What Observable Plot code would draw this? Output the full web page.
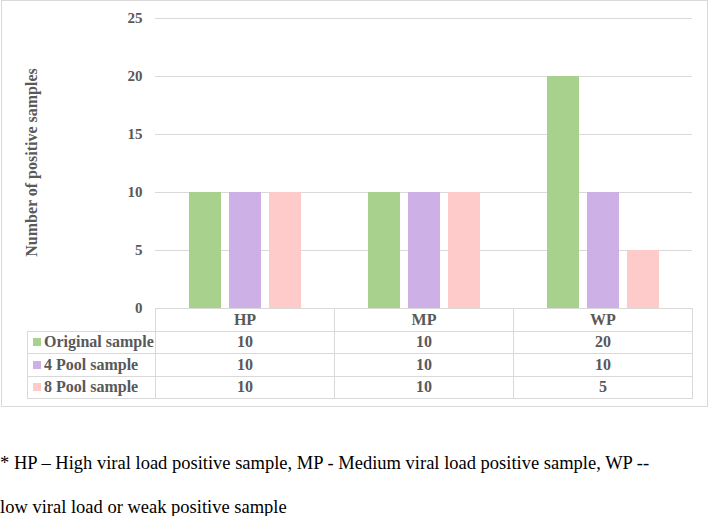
<!DOCTYPE html>
<html>
<head>
<meta charset="utf-8">
<script src="https://cdn.jsdelivr.net/npm/d3@7"></script>
<script src="https://cdn.jsdelivr.net/npm/@observablehq/plot@0.6"></script>
<style>
  body { margin: 0; background: #fff; font-family: "Liberation Serif", "Times New Roman", serif; }
  #wrap { position: relative; width: 709px; height: 516px; overflow: hidden; }
  #frame { position: absolute; left: 1px; top: 0; width: 705px; height: 405px; border: 1px solid #d9d9d9; pointer-events: none; }
  #chart { position: absolute; left: 0; top: 0; }
  #table { position: absolute; left: 27px; top: 308px; border-collapse: collapse; table-layout: fixed;
           font: bold 16px "Liberation Serif", "Times New Roman", serif; color: #595959; }
  #table td { border: 1px solid #d9d9d9; height: 21.5px; padding: 0; text-align: center; line-height: 20px; }
  #table td.lab { text-align: left; padding-left: 5px; white-space: nowrap; }
  #table td.empty { border-top: none; border-left: none; }
  .sw { display: inline-block; width: 8px; height: 8px; margin-right: 3px; vertical-align: 1px; }
  .cap { position: absolute; left: 0; font: 18.5px "Liberation Serif", "Times New Roman", serif; color: #000; white-space: nowrap; line-height: 20px; }
</style>
</head>
<body>
<div id="wrap">
  <div id="chart"></div>
  <table id="table"></table>
  <div id="frame"></div>
  <div class="cap" id="cap1" style="top:453px"></div>
  <div class="cap" id="cap2" style="top:497px"></div>
</div>
<script>
const categories = ["HP", "MP", "WP"];
const seriesNames = ["Original sample", "4 Pool sample", "8 Pool sample"];
const originalSample = [10, 10, 20];
const pool4Sample = [10, 10, 10];
const pool8Sample = [10, 10, 5];
const seriesColors = ["#a9d18e", "#ccb0e6", "#ffcaca"];
const yTicks = [0, 5, 10, 15, 20, 25];
const yLabel = "Number of positive samples";
const captionLines = [
  "* HP \u2013 High viral load positive sample, MP - Medium viral load positive sample, WP --",
  "low viral load or weak positive sample"
];

const seriesValues = [originalSample, pool4Sample, pool8Sample];
const rows = [];
categories.forEach((c, i) => {
  seriesNames.forEach((s, j) => rows.push({cat: c, series: s, value: seriesValues[j][i]}));
});

const chart = Plot.plot({
  width: 709,
  height: 308,
  marginTop: 18,
  marginBottom: 0,
  marginLeft: 155,
  marginRight: 17,
  style: {fontFamily: "'Liberation Serif', 'Times New Roman', serif", background: "transparent", overflow: "visible"},
  fx: {domain: categories, padding: 0, axis: null, label: null},
  x: {domain: seriesNames, paddingInner: 0.2, paddingOuter: 0.8375, axis: null, label: null},
  y: {domain: [0, 25], ticks: yTicks, label: null},
  color: {domain: seriesNames, range: seriesColors},
  marks: [
    Plot.gridY(yTicks, {stroke: "#d9d9d9", strokeOpacity: 1, strokeWidth: 1.2}),
    Plot.barY(rows, {fx: "cat", x: "series", y: "value", fill: "series"}),
    Plot.axisY(yTicks, {
      tickSize: 0, tickPadding: 13, fontSize: 15, fontWeight: "bold", fill: "#595959", label: null
    }),
    Plot.text([yLabel], {
      fx: () => categories[0], frameAnchor: "left", dx: -124, dy: -1, rotate: -90,
      textAnchor: "middle", lineAnchor: "middle",
      text: d => d, fontSize: 16, fontWeight: "bold", fill: "#595959"
    })
  ]
});
document.getElementById("chart").appendChild(chart);

// data table (legend + values) below the plot
const table = document.getElementById("table");
const colWidths = [128, 179, 179, 179];
const cg = document.createElement("colgroup");
colWidths.forEach(w => { const col = document.createElement("col"); col.style.width = w + "px"; cg.appendChild(col); });
table.appendChild(cg);
const head = document.createElement("tr");
const e = document.createElement("td"); e.className = "empty"; head.appendChild(e);
categories.forEach(c => { const td = document.createElement("td"); td.textContent = c; head.appendChild(td); });
table.appendChild(head);
seriesNames.forEach((s, j) => {
  const tr = document.createElement("tr");
  const lab = document.createElement("td"); lab.className = "lab";
  const sw = document.createElement("span"); sw.className = "sw"; sw.style.background = seriesColors[j];
  lab.appendChild(sw); lab.appendChild(document.createTextNode(s));
  tr.appendChild(lab);
  seriesValues[j].forEach(v => { const td = document.createElement("td"); td.textContent = v; tr.appendChild(td); });
  table.appendChild(tr);
});

document.getElementById("cap1").textContent = captionLines[0];
document.getElementById("cap2").textContent = captionLines[1];
</script>
</body>
</html>
